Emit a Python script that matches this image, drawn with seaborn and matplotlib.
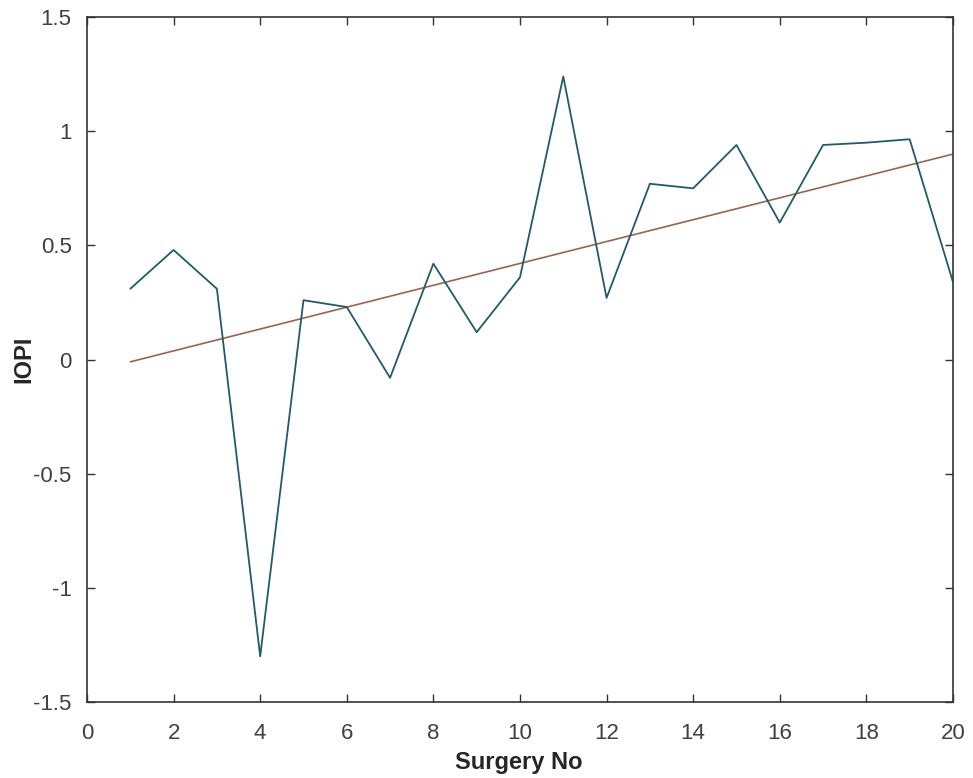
import numpy as np
import pandas as pd
import matplotlib.pyplot as plt
import seaborn as sns

# IOPI per surgery
surgery_no = list(range(1, 21))
iopi = [0.31, 0.48, 0.31, -1.30, 0.26, 0.23, -0.08, 0.42, 0.12, 0.36,
        1.24, 0.27, 0.77, 0.75, 0.94, 0.60, 0.94, 0.95, 0.965, 0.34]

# linear trend line end points
trend_x = [1, 20]
trend_y = [-0.01, 0.90]

xticks = list(range(0, 21, 2))
yticks = [-1.5, -1, -0.5, 0, 0.5, 1, 1.5]
ytick_labels = ["-1.5", "-1", "-0.5", "0", "0.5", "1", "1.5"]

sns.set_style("ticks")
plt.rcParams['font.family'] = ['Liberation Sans', 'DejaVu Sans']

df = pd.DataFrame({"Surgery No": surgery_no, "IOPI": iopi})
trend = pd.DataFrame({"x": trend_x, "y": trend_y})

fig = plt.figure(figsize=(9.73, 7.78), dpi=100)
ax = fig.add_axes([0.0894, 0.0977, 0.89, 0.8803])

sns.lineplot(data=trend, x="x", y="y", ax=ax, color="#9a6450", linewidth=1.2)
sns.lineplot(data=df, x="Surgery No", y="IOPI", ax=ax, color="#235a6a", linewidth=1.3)

ax.set_xlim(0, 20)
ax.set_ylim(-1.5, 1.5)
ax.set_xticks(xticks)
ax.set_yticks(yticks)
ax.set_yticklabels(ytick_labels)
ax.tick_params(direction="in", top=True, right=True, length=6, width=1,
               labelsize=16, labelcolor="#404040", color="#333333")
ax.tick_params(axis="x", pad=15)
ax.tick_params(axis="y", pad=11)
for s in ax.spines.values():
    s.set_color("#333333")
    s.set_linewidth(1.2)

ax.set_xlabel("Surgery No", fontsize=17, fontweight="bold")
ax.set_ylabel("IOPI", fontsize=17, fontweight="bold")
ax.xaxis.set_label_coords(0.499, -0.072)
ax.yaxis.set_label_coords(-0.060, 0.5)

plt.savefig("out.png", dpi=100)
